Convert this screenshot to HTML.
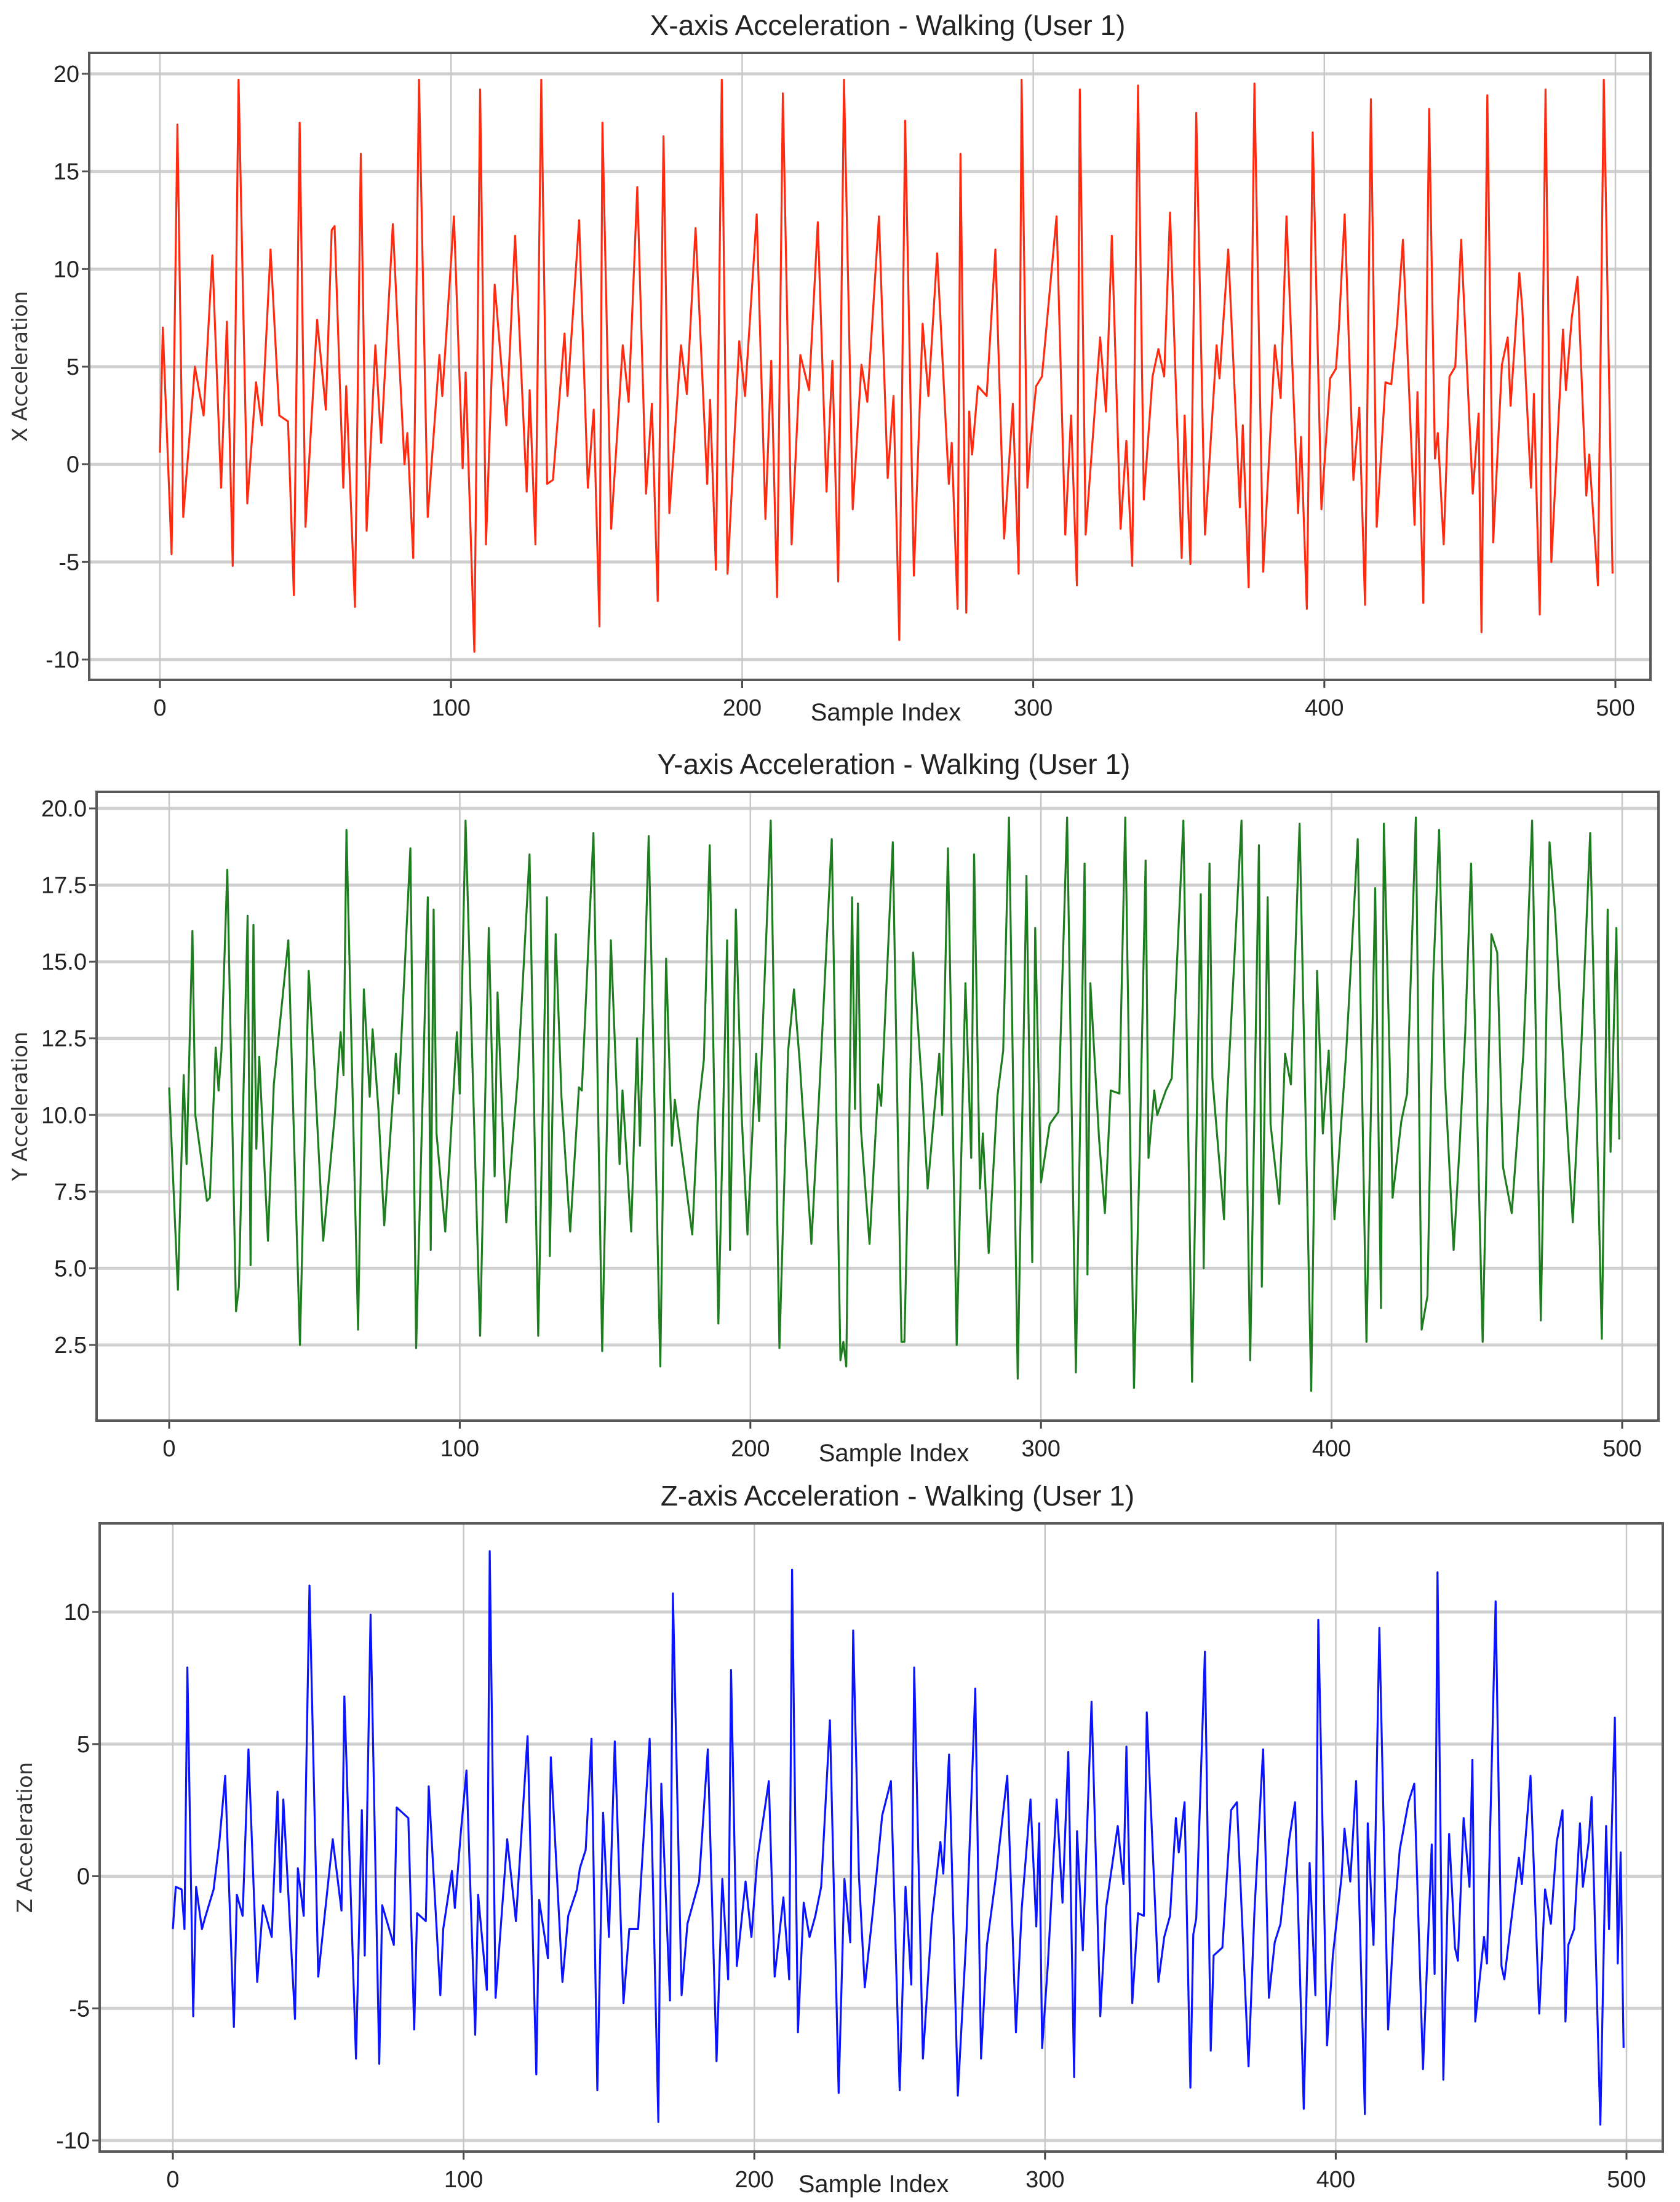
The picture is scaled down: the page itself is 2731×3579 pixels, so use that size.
<!DOCTYPE html>
<html><head><meta charset="utf-8"><style>
html,body{margin:0;padding:0;background:#fff;}
svg{display:block;}
.t{font-family:"Liberation Sans Narrow","Liberation Sans",sans-serif;fill:#222;}
.yl{font-family:"DejaVu Sans","Liberation Sans",sans-serif;fill:#333;}
</style></head><body>
<svg id="chart" width="2731" height="3579" viewBox="0 0 2731 3579" xmlns="http://www.w3.org/2000/svg"></svg>
<script>
const xIdx = [0,1,4,6,8,12,15,18,21,23,25,27,30,33,35,38,41,44,46,48,50,54,57,59,60,63,64,67,69,71,74,76,80,82,84,85,87,89,92,96,97,101,104,105,108,110,112,115,119,122,126,127,129,131,133,135,139,140,144,147,149,151,152,155,159,161,164,167,169,171,173,175,179,181,184,188,189,191,193,195,199,201,205,208,210,212,214,217,220,223,226,229,231,233,235,238,241,243,247,250,252,254,256,259,262,264,267,271,272,274,275,277,278,279,281,284,287,290,293,295,296,298,299,301,303,308,311,313,315,316,318,323,325,327,330,332,334,336,338,341,343,345,347,351,352,354,356,359,363,364,367,371,372,374,376,379,383,385,387,391,392,394,396,399,402,404,405,407,410,412,414,416,418,421,423,425,427,431,432,434,436,438,439,441,443,445,447,451,453,454,456,458,461,463,464,467,468,471,472,474,476,478,482,483,485,487,490,491,494,496,499];
const xVal = [0.6,7,-4.6,17.4,-2.7,5,2.5,10.7,-1.2,7.3,-5.2,19.7,-2,4.2,2,11,2.5,2.2,-6.7,17.5,-3.2,7.4,2.8,12,12.2,-1.2,4,-7.3,15.9,-3.4,6.1,1.1,12.3,6,0,1.6,-4.8,19.7,-2.7,5.6,3.5,12.7,-0.2,4.7,-9.6,19.2,-4.1,9.2,2,11.7,-1.4,3.8,-4.1,19.7,-1,-0.8,6.7,3.5,12.5,-1.2,2.8,-8.3,17.5,-3.3,6.1,3.2,14.2,-1.5,3.1,-7,16.8,-2.5,6.1,3.6,12.1,-1,3.3,-5.4,19.7,-5.6,6.3,3.5,12.8,-2.8,5.3,-6.8,19,-4.1,5.6,3.8,12.4,-1.4,5.3,-6,19.7,-2.3,5.1,3.2,12.7,-0.7,3.5,-9,17.6,-5.7,7.2,3.5,10.8,-1,1.1,-7.4,15.9,-7.6,2.7,0.5,4,3.5,11,-3.8,3.1,-5.6,19.7,-1.2,1,4,4.5,12.7,-3.6,2.5,-6.2,19.2,-3.6,6.5,2.7,11.7,-3.3,1.2,-5.2,19.4,-1.8,4.5,5.9,4.5,12.9,-4.8,2.5,-5.1,18,-3.6,6.1,4.4,11,-2.2,2,-6.3,19.5,-5.5,6.1,3.4,12.7,-2.5,1.4,-7.4,17,-2.3,4.4,4.9,7,12.8,-0.8,2.9,-7.2,18.7,-3.2,4.2,4.1,7.2,11.5,-3.1,3.7,-7.1,18.2,0.3,1.6,-4.1,4.5,5,11.5,-1.5,2.6,-8.6,18.9,-4,5.1,6.5,3,9.8,8,-1.2,3.6,-7.7,19.2,-5,6.9,3.8,7.5,9.6,-1.6,0.5,-6.2,19.7,-5.6];

const yIdx = [0,3,5,6,8,9,13,14,16,17,18,20,23,24,27,28,29,30,31,34,36,41,45,48,50,53,57,59,60,61,65,67,69,70,72,74,78,79,83,85,89,90,91,92,95,99,100,102,107,110,112,113,116,120,124,127,130,131,133,135,138,141,142,146,149,152,155,156,159,161,162,165,169,171,173,174,180,182,184,186,189,192,193,195,197,199,202,203,207,210,213,215,217,221,224,228,231,232,233,235,236,237,238,241,244,245,249,252,253,256,259,261,265,266,268,271,274,276,277,279,280,282,285,287,289,292,295,297,298,300,303,306,309,312,315,316,317,320,322,324,327,329,332,334,336,337,339,340,343,345,349,352,355,356,358,359,363,364,369,372,375,376,378,379,382,384,386,389,393,395,397,399,401,405,409,412,415,417,418,420,421,424,426,429,431,433,435,437,439,442,444,446,448,452,455,457,459,462,466,469,472,475,477,480,483,486,489,493,495,496,498,499];
const yVal = [10.9,4.3,11.3,8.4,16,10,7.2,7.3,12.2,10.8,12.1,18,3.6,4.4,16.5,5.1,16.2,8.9,11.9,5.9,11,15.7,2.5,14.7,11.5,5.9,10,12.7,11.3,19.3,3,14.1,10.6,12.8,10.2,6.4,12,10.7,18.7,2.4,17.1,5.6,16.7,9.4,6.2,12.7,10.7,19.6,2.8,16.1,8,14,6.5,11.3,18.5,2.8,17.1,5.4,15.9,10.6,6.2,10.9,10.8,19.2,2.3,15.7,8.4,10.8,6.2,12.5,9,19.1,1.8,15.1,9,10.5,6.1,10.1,11.8,18.8,3.2,15.7,5.6,16.7,10,6.1,12,9.8,19.6,2.4,12.1,14.1,11.7,5.8,11.3,19,2,2.6,1.8,17.1,10.2,16.9,9.6,5.8,11,10.3,18.9,2.6,2.6,15.3,11,7.6,12,10,18.7,2.5,14.3,8.6,18.5,7.6,9.4,5.5,10.6,12.1,19.7,1.4,17.8,5.2,16.1,7.8,9.7,10.1,19.7,1.6,18.2,4.8,14.3,9.2,6.8,10.8,10.7,19.7,1.1,8.9,18.3,8.6,10.8,10,10.8,11.2,19.6,1.3,17.2,5,18.2,11.2,6.6,10.4,19.6,2,18.8,4.4,17.1,9.7,7.1,12,11,19.5,1,14.7,9.4,12.1,6.6,12,19,2.6,17.4,3.7,19.5,11.7,7.3,9.8,10.7,19.7,3,4.1,14.5,19.3,11.2,5.6,8.9,12.7,18.2,2.6,15.9,15.3,8.3,6.8,12,19.6,3.3,18.9,16.5,11.3,6.5,12.4,19.2,2.7,16.7,8.8,16.1,9.2];

const zIdx = [0,1,3,4,5,7,8,10,11,14,16,18,21,22,24,26,29,31,34,36,37,38,42,43,45,47,50,52,55,58,59,63,65,66,68,71,72,76,77,81,83,84,87,88,92,93,96,97,99,101,104,105,108,109,111,115,118,122,125,126,129,130,134,136,139,140,142,144,146,148,150,152,155,157,160,162,164,167,168,171,172,175,177,181,184,187,189,191,192,194,197,199,201,205,207,210,212,213,215,217,219,221,223,226,229,231,233,234,236,238,241,244,247,250,252,254,255,258,261,264,265,267,270,273,276,278,280,283,287,290,292,295,297,298,299,301,304,306,308,310,311,313,316,319,321,325,327,328,330,332,334,335,339,341,343,345,346,348,350,351,352,355,357,358,361,364,366,370,372,375,377,379,381,384,386,389,391,393,394,397,399,402,403,405,407,410,411,413,415,418,420,422,425,427,430,433,434,435,437,439,441,442,444,446,447,448,451,452,455,457,458,460,463,464,467,470,472,474,476,478,479,480,482,484,485,487,488,491,493,494,496,497,498,499];
const zVal = [-2,-0.4,-0.5,-2,7.9,-5.3,-0.4,-2,-1.6,-0.5,1.3,3.8,-5.7,-0.7,-1.5,4.8,-4,-1.1,-2.3,3.2,-0.6,2.9,-5.4,0.3,-1.5,11,-3.8,-1.7,1.4,-1.3,6.8,-6.9,2.5,-3,9.9,-7.1,-1.1,-2.6,2.6,2.2,-5.8,-1.4,-1.7,3.4,-4.5,-2,0.2,-1.2,1.6,4,-6,-0.7,-4.3,12.3,-4.6,1.4,-1.7,5.3,-7.5,-0.9,-3.1,4.5,-4,-1.5,-0.5,0.3,1,5.2,-8.1,2.4,-2.3,5.1,-4.8,-2,-2,1.6,5.2,-9.3,3.5,-4.7,10.7,-4.5,-1.8,-0.2,4.8,-7,-0.1,-3.9,7.8,-3.4,-0.2,-2.3,0.6,3.6,-3.8,-0.8,-3.9,11.6,-5.9,-1,-2.3,-1.5,-0.4,5.9,-8.2,-0.1,-2.5,9.3,0,-4.2,-1.1,2.3,3.6,-8.1,-0.4,-4.1,7.9,-6.9,-1.7,1.3,0.1,4.6,-8.3,-2.1,7.1,-6.9,-2.6,-0.1,3.8,-5.9,-1.2,2.9,-1.9,2,-6.5,-3.3,2.9,-1,4.7,-7.6,1.7,-2.8,6.6,-5.3,-1.2,1.9,-0.3,4.9,-4.8,-1.4,-1.5,6.2,-4,-2.3,-1.5,2.2,0.9,2.8,-8,-2.2,-1.6,8.5,-6.6,-3,-2.7,2.5,2.8,-7.2,-1.4,4.8,-4.6,-2.5,-1.8,1.4,2.8,-8.8,0.5,-4.5,9.7,-6.4,-3,0,1.8,-0.2,3.6,-9,2,-2.6,9.4,-5.8,-1.8,1,2.8,3.5,-7.3,1.2,-3.7,11.5,-7.7,1.6,-2.7,-3.2,2.2,-0.4,4.4,-5.5,-2.3,-3.3,10.4,-3.4,-3.9,-2,0.7,-0.3,3.8,-5.2,-0.5,-1.8,1.3,2.5,-5.5,-2.6,-2,2,-0.4,1.3,3,-9.4,1.9,-2,6,-3.3,0.9,-6.5];

const xTicksX = [0,100,200,300,400,500];
const yTicks1 = [-10,-5,0,5,10,15,20];
const yTicks2 = [2.5,5.0,7.5,10.0,12.5,15.0,17.5,20.0];
const yTicks3 = [-10,-5,0,5,10];

const NS = "http://www.w3.org/2000/svg";
const svg = document.getElementById('chart');
function mk(tag, attrs, parent){ const e=document.createElementNS(NS,tag); for(const k in attrs) e.setAttribute(k,attrs[k]); (parent||svg).appendChild(e); return e; }

function panel(cfg){
  const g = mk('g',{});
  
  
  const sx = v => cfg.x0 + (v/500)*(cfg.x500-cfg.x0);
  const sy = v => cfg.yA + (v-cfg.vA)/(cfg.vB-cfg.vA)*(cfg.yB-cfg.yA);
  // horizontal grid
  cfg.yticks.forEach(t=>{
    const gl = mk('line',{x1:cfg.L,x2:cfg.R,y1:sy(t),y2:sy(t),stroke:'#d0d0d0','stroke-width':5},g);
    
    
    const tk = mk('line',{x1:cfg.L-12,x2:cfg.L,y1:sy(t),y2:sy(t),stroke:'#555','stroke-width':3},g);
    
    
    const tl = mk('text',{x:cfg.L-16,y:sy(t)+13,'text-anchor':'end','font-size':38,class:'t'},g);
    tl.textContent = cfg.fmt(t);
    
    
  });
  xTicksX.forEach(t=>{
    const gl = mk('line',{x1:sx(t),x2:sx(t),y1:cfg.T,y2:cfg.B,stroke:'#c8c8c8','stroke-width':2.5},g);
    
    
    const tk = mk('line',{x1:sx(t),x2:sx(t),y1:cfg.B,y2:cfg.B+13,stroke:'#444','stroke-width':3},g);
    
    
    const tl = mk('text',{x:sx(t),y:cfg.B+58,'text-anchor':'middle','font-size':38,class:'t'},g);
    tl.textContent = t;
    
    
  });
  const pts = cfg.idx.map((v,i)=>sx(v).toFixed(1)+','+sy(cfg.val[i]).toFixed(1)).join(' ');
  const pl = mk('polyline',{points:pts,fill:'none',stroke:cfg.color,'stroke-width':3.2,'stroke-linejoin':'round'},g);
  
  
  const fr = mk('rect',{x:cfg.L,y:cfg.T,width:cfg.R-cfg.L,height:cfg.B-cfg.T,fill:'none',stroke:'#5a5a5a','stroke-width':4},g);
  
  
  const ti = mk('text',{x:cfg.tx,y:cfg.ty,'text-anchor':'middle','font-size':46,class:'t'},g);
  ti.textContent = cfg.title;
  
  
  const xl = mk('text',{x:cfg.xlx,y:cfg.B+66,'text-anchor':'middle','font-size':40,class:'t'},g);
  xl.textContent = 'Sample Index';
  
  
  const cy=(cfg.T+cfg.B)/2;
  const yl = mk('text',{x:0,y:0,'text-anchor':'middle','font-size':34,class:'yl',transform:`translate(${cfg.ylx},${cy}) rotate(-90)`},g);
  yl.textContent = cfg.ylabel;
  
  
}

panel({name:'x-acceleration-panel',series:'x-acceleration-line',color:'#ff2a10',idx:xIdx,val:xVal,
  L:145,R:2683,T:86,B:1105,x0:260,x500:2626,vA:20,yA:120,vB:-10,yB:1072,yticks:yTicks1,fmt:t=>String(t),
  title:'X-axis Acceleration - Walking (User 1)',tx:1443,ty:57,xlx:1440,ylabel:'X Acceleration',ylx:44});
panel({name:'y-acceleration-panel',series:'y-acceleration-line',color:'#1e7d1e',idx:yIdx,val:yVal,
  L:157,R:2696,T:1287,B:2309,x0:275,x500:2637,vA:20,yA:1314,vB:2.5,yB:2186,yticks:yTicks2,fmt:t=>t.toFixed(1),
  title:'Y-axis Acceleration - Walking (User 1)',tx:1453,ty:1258,xlx:1453,ylabel:'Y Acceleration',ylx:44});
panel({name:'z-acceleration-panel',series:'z-acceleration-line',color:'#0a14ff',idx:zIdx,val:zVal,
  L:162,R:2703,T:2476,B:3497,x0:281,x500:2644,vA:10,yA:2620,vB:-10,yB:3479,yticks:yTicks3,fmt:t=>String(t),
  title:'Z-axis Acceleration - Walking (User 1)',tx:1459,ty:2447,xlx:1420,ylabel:'Z Acceleration',ylx:52});
</script>
</body></html>
